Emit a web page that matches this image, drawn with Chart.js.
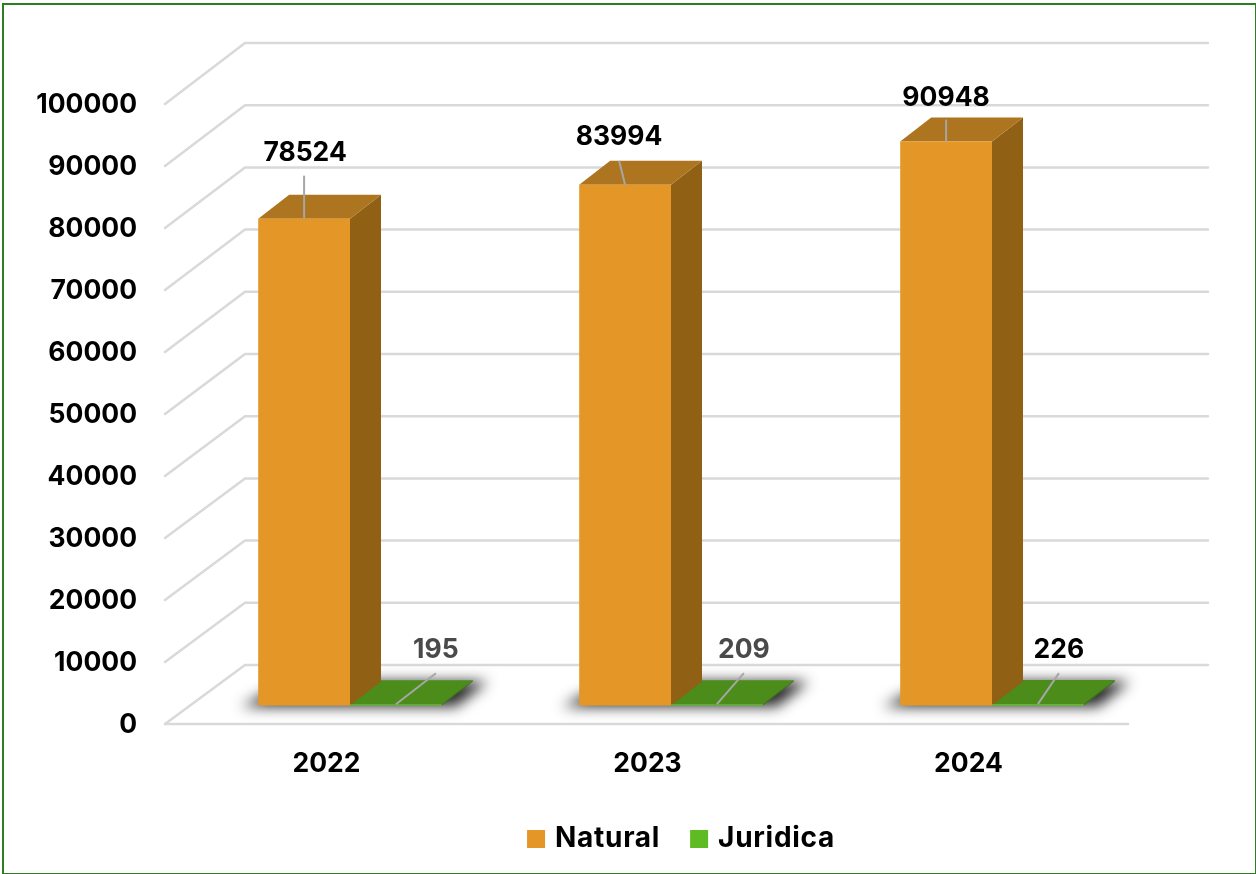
<!DOCTYPE html>
<html>
<head>
<meta charset="utf-8">
<style>
  html, body { margin: 0; padding: 0; background: #fff; overflow: hidden; }
  #wrap { position: absolute; left: 0; top: 0; width: 1256px; height: 874px; }
  #frame { position: absolute; left: 2px; top: 3px; width: 1251px; height: 868px; border: 2px solid #2f7d22; }
  canvas { position: absolute; left: 0; top: 0; }
</style>
<script src="https://cdn.jsdelivr.net/npm/chart.js@4"></script>
</head>
<body>
<div id="wrap">
  <div id="frame"></div>
  <canvas id="chart3d" width="1256" height="874"></canvas>
</div>
<script>
var years = ['2022', '2023', '2024'];
var naturalValues = [78524, 83994, 90948];
var juridicaValues = [195, 209, 226];
var seriesNames = ['Natural', 'Juridica'];
var yMax = 100000;
var yStep = 10000;

var FONT = '"Inter", sans-serif';
var WALL = { dx: 80, dy: -59, stretch: 620 / 618 }; // floor depth, front plane to back wall
var BAR_SHIFT = { dx: 24.5, dy: -18.5 }; // bars stand part way back on the floor
var BAR_DEPTH = { dx: 31, dy: -24 };

// label placement relative to the top centre of each bar: [leader dx, leader dy, text dx, text dy]
var naturalLabelPos = [[0, -43, 1, -66], [-6, -24, -6, -48], [0, -22, 0, -44]];
var juridicaLabelPos = [[40, -31, 40, -54], [27, -31, 27, -54], [21, -31, 21, -54]];
var juridicaLabelColors = ['#4a4a4a', '#4a4a4a', '#000000'];

function poly(ctx, pts, color) {
	ctx.beginPath();
	ctx.moveTo(pts[0][0], pts[0][1]);
	for (var i = 1; i < pts.length; i++) { ctx.lineTo(pts[i][0], pts[i][1]); }
	ctx.closePath();
	ctx.fillStyle = color;
	ctx.fill();
}

function line(ctx, x1, y1, x2, y2) {
	ctx.beginPath();
	ctx.moveTo(x1, y1);
	ctx.lineTo(x2, y2);
	ctx.stroke();
}

function drawWalls(chart) {
	var ctx = chart.ctx, y = chart.scales.y, area = chart.chartArea;
	ctx.save();
	ctx.strokeStyle = '#d9d9d9';
	ctx.lineWidth = 2.5;
	ctx.lineCap = 'round';
	ctx.lineJoin = 'round';
	y.ticks.forEach(function (t) {
		var py = y.getPixelForValue(t.value);
		var backY = area.bottom + WALL.dy - (area.bottom - py) * WALL.stretch;
		ctx.beginPath();
		ctx.moveTo(area.left, py);
		ctx.lineTo(area.left + WALL.dx, backY);
		ctx.lineTo(area.right + WALL.dx, backY);
		ctx.stroke();
	});
	line(ctx, area.left, area.bottom, area.right, area.bottom);
	ctx.restore();
}

// soft floor shadow: the shape is drawn off canvas so only its blur lands on the floor
function drawShadows(chart) {
	var ctx = chart.ctx;
	var a = chart.getDatasetMeta(0).data, b = chart.getDatasetMeta(1).data;
	var off = 3000;
	ctx.save();
	ctx.translate(BAR_SHIFT.dx - off, BAR_SHIFT.dy);
	ctx.shadowColor = 'rgba(0,0,0,0.85)';
	ctx.shadowBlur = 14;
	ctx.shadowOffsetX = off;
	a.forEach(function (el, i) {
		var l = el.x - el.width / 2, r = b[i].x + b[i].width / 2, base = el.base;
		poly(ctx, [
			[l - 17, base + 1], [r + 14, base + 1],
			[r + BAR_DEPTH.dx + 15, base + BAR_DEPTH.dy], [l + BAR_DEPTH.dx, base + BAR_DEPTH.dy]
		], '#000');
	});
	ctx.restore();
}

function drawDepth(chart, metaIdx, topColor, sideColor) {
	var ctx = chart.ctx;
	ctx.save();
	ctx.translate(BAR_SHIFT.dx, BAR_SHIFT.dy);
	chart.getDatasetMeta(metaIdx).data.forEach(function (el) {
		var l = el.x - el.width / 2, r = el.x + el.width / 2, d = BAR_DEPTH;
		poly(ctx, [[r, el.y], [r + d.dx, el.y + d.dy], [r + d.dx, el.base + d.dy], [r, el.base]], sideColor);
		poly(ctx, [[l, el.y], [l + d.dx, el.y + d.dy], [r + d.dx, el.y + d.dy], [r, el.y]], topColor);
	});
	ctx.restore();
}

function drawValueLabels(chart) {
	var ctx = chart.ctx;
	ctx.save();
	ctx.translate(BAR_SHIFT.dx, BAR_SHIFT.dy);
	ctx.font = '700 26.5px ' + FONT;
	ctx.textAlign = 'center';
	ctx.textBaseline = 'middle';
	ctx.lineWidth = 2;
	ctx.strokeStyle = '#a6a6a6';
	[[0, naturalLabelPos], [1, juridicaLabelPos]].forEach(function (s) {
		chart.getDatasetMeta(s[0]).data.forEach(function (el, i) {
			var p = s[1][i];
			line(ctx, el.x, el.y, el.x + p[0], el.y + p[1]);
			ctx.fillStyle = s[0] === 1 ? juridicaLabelColors[i] : '#000000';
			ctx.fillText(String(chart.data.datasets[s[0]].data[i]), el.x + p[2], el.y + p[3]);
		});
	});
	ctx.restore();
}

var plugin3d = {
	id: 'plugin3d',
	afterInit: function (chart) {
		// legend text is spaced a little wider than the font's default
		var lg = chart.legend, ctx = chart.ctx;
		['fit', 'draw'].forEach(function (name) {
			var orig = lg[name];
			lg[name] = function () {
				ctx.letterSpacing = '0.7px';
				orig.apply(this, arguments);
				ctx.letterSpacing = '0px';
			};
		});
	},
	afterLayout: function (chart) {
		// legend sits off-centre in the reference
		var lg = chart.legend;
		lg.left += 119; lg.right += 119;
		lg.top += 9; lg.bottom += 9;
	},
	beforeDatasetsDraw: function (chart) {
		drawWalls(chart);
		drawShadows(chart);
		drawDepth(chart, 1, '#4b8c1a', '#3c7215');
		drawDepth(chart, 0, '#ae7520', '#906014');
		chart.ctx.save();
		chart.ctx.translate(BAR_SHIFT.dx, BAR_SHIFT.dy);
	},
	afterDatasetsDraw: function (chart) {
		chart.ctx.restore();
		drawValueLabels(chart);
	}
};

new Chart(document.getElementById('chart3d'), {
	type: 'bar',
	data: {
		labels: years,
		datasets: [
			{ label: seriesNames[0], data: naturalValues, backgroundColor: '#e49726', clip: false,
				categoryPercentage: 0.572, barPercentage: 1 },
			{ label: seriesNames[1], data: juridicaValues, backgroundColor: '#5fbb23', clip: false,
				categoryPercentage: 0.572, barPercentage: 1 }
		]
	},
	options: {
		responsive: false,
		animation: false,
		layout: { padding: { top: 104, right: 128, left: 0, bottom: 20 } },
		scales: {
			x: {
				grid: { display: false, drawTicks: false },
				border: { display: false },
				ticks: { color: '#000', padding: 24, labelOffset: 1, font: { family: FONT, size: 26.5, weight: '700' } },
				afterFit: function (s) { s.height = 58; }
			},
			y: {
				min: 0, max: yMax,
				grid: { display: false, drawTicks: false },
				border: { display: false },
				ticks: {
					stepSize: yStep, color: '#000', padding: 28, labelOffset: 1,
					font: { family: FONT, size: 26.5, weight: '700' },
					callback: function (v) { return String(v); }
				},
				afterFit: function (s) { s.width = 165; }
			}
		},
		plugins: {
			legend: {
				position: 'bottom',
				labels: {
					color: '#000', usePointStyle: true, pointStyle: 'rect',
					boxWidth: 10, boxHeight: 18, padding: 34,
					font: { family: FONT, size: 28, weight: '700' }
				}
			},
			tooltip: { enabled: false }
		}
	},
	plugins: [plugin3d]
});
</script>
</body>
</html>
